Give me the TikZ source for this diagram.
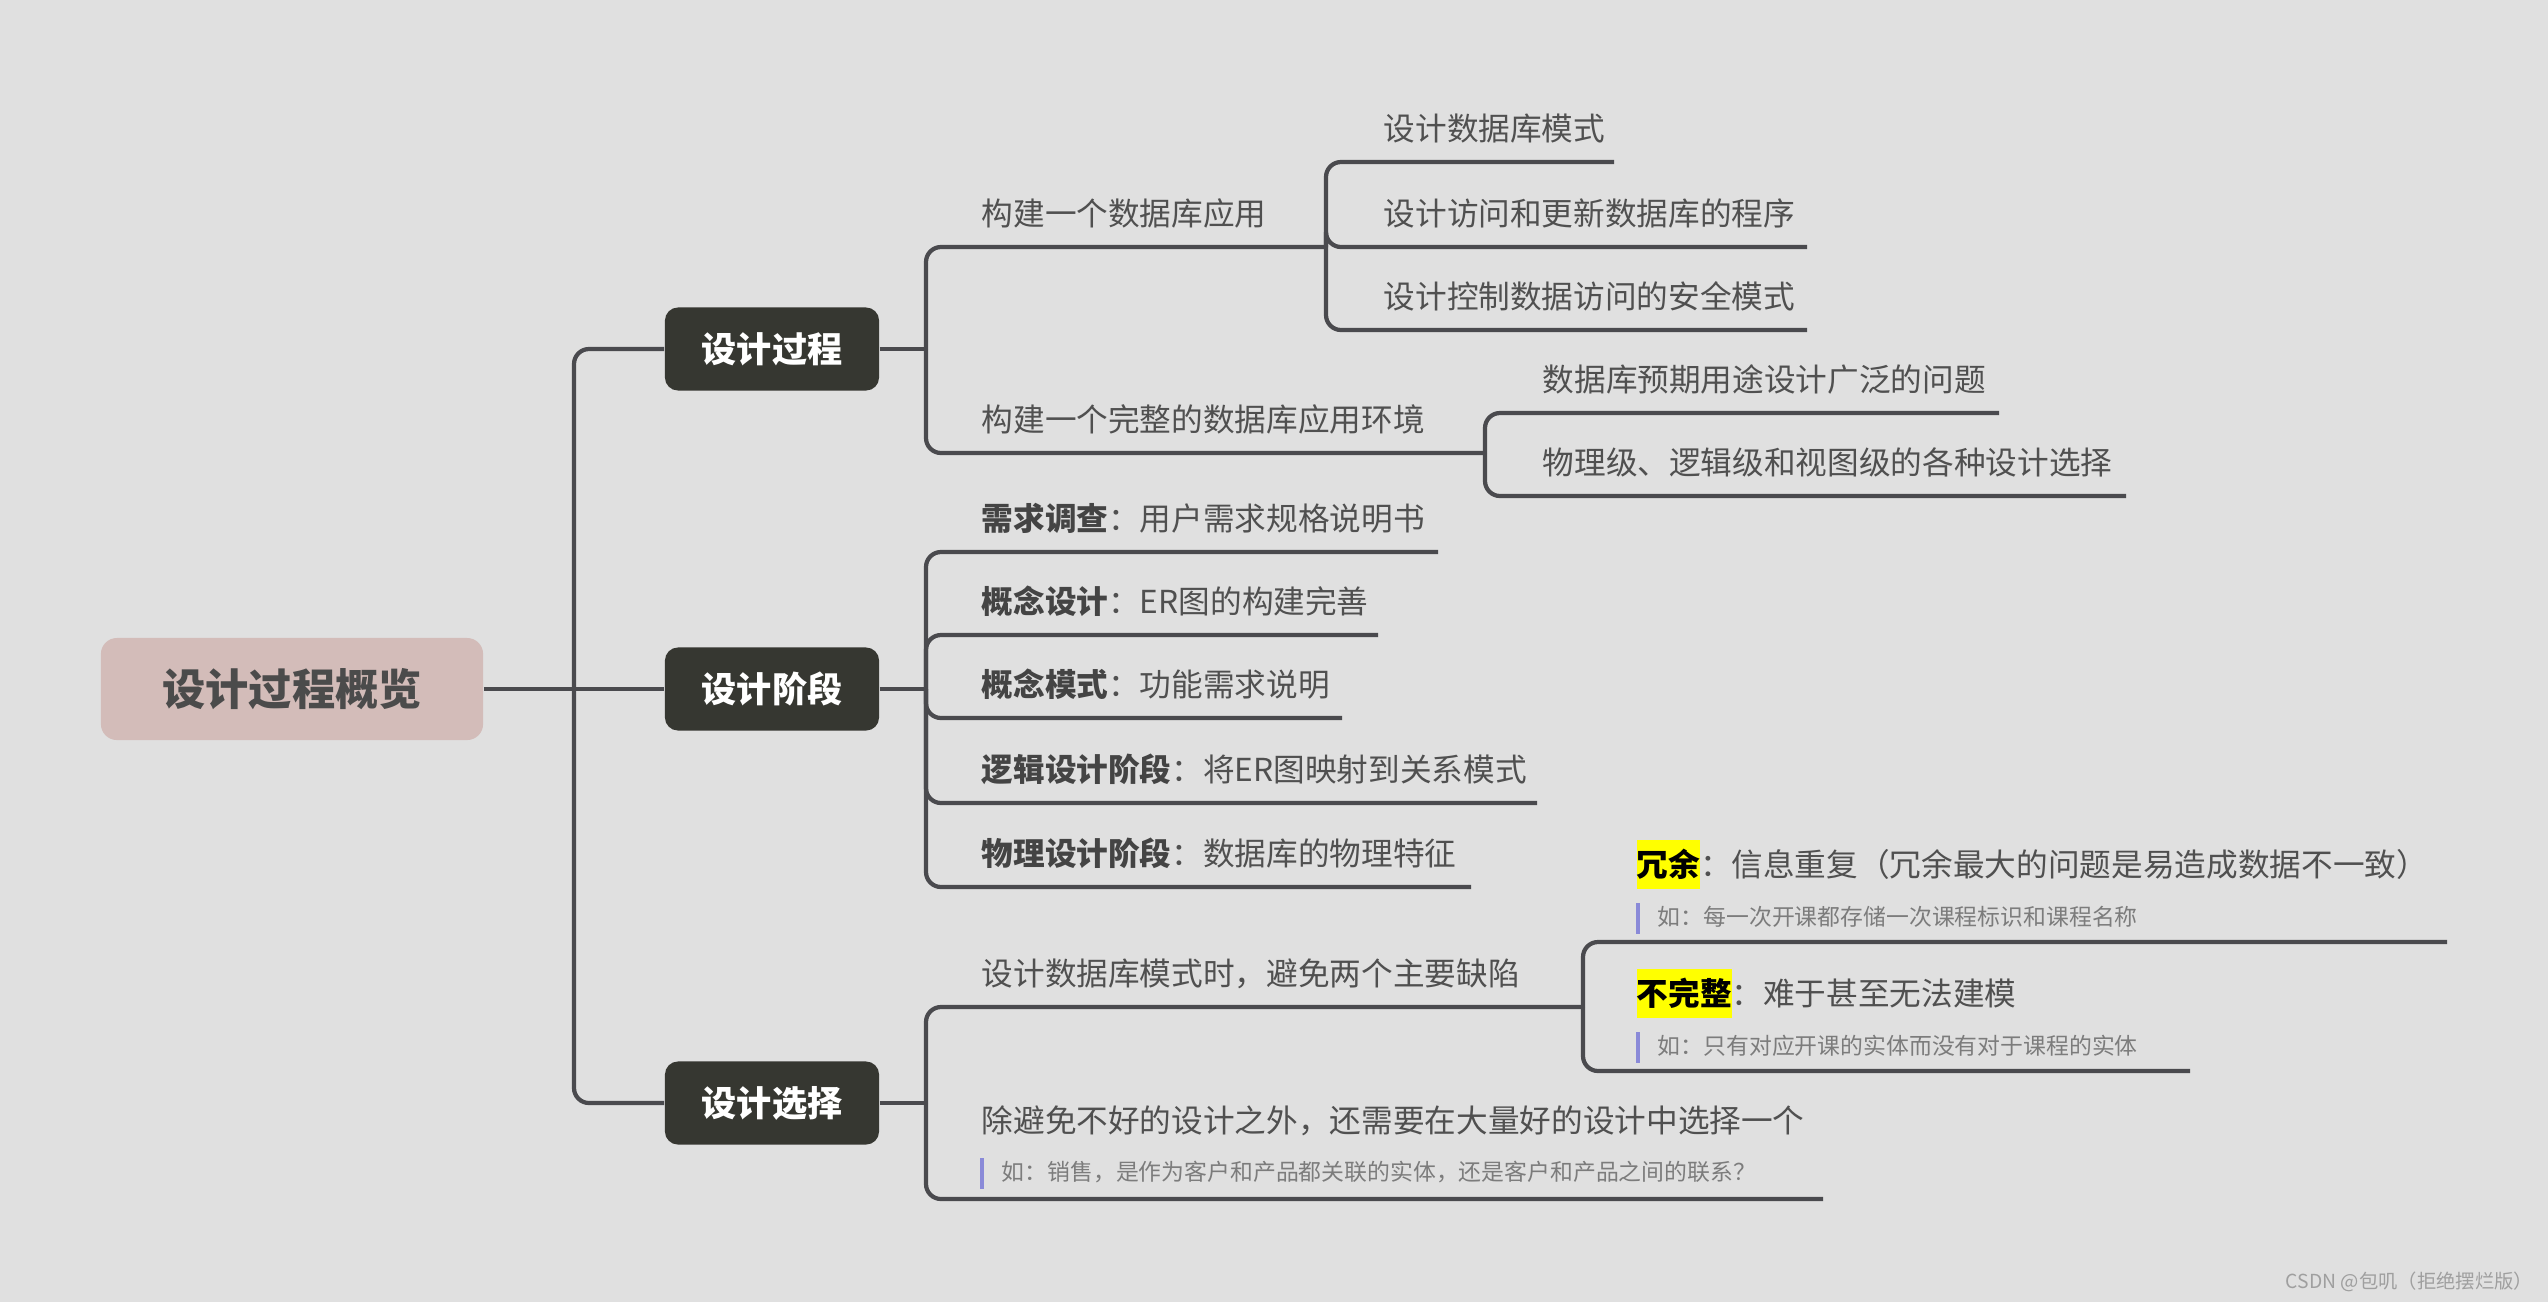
\documentclass[tikz,border=0pt]{standalone}
\usepackage{fontspec}
\setmainfont{Noto Sans CJK SC}
\usetikzlibrary{calc}
\definecolor{bgcol}{HTML}{E0E0E0}
\definecolor{linecol}{HTML}{4A4A4E}
\definecolor{rootfill}{HTML}{D3BCB9}
\definecolor{rootink}{HTML}{4B4B4B}
\definecolor{boxfill}{HTML}{363731}
\definecolor{textink}{HTML}{505050}
\definecolor{keyink}{HTML}{444444}
\definecolor{noteink}{HTML}{7C7C7C}
\definecolor{barcol}{HTML}{8A8AD8}
\definecolor{hlyellow}{HTML}{FFFF00}
\newcommand{\keyw}[1]{\textbf{\color{keyink}#1}}
\newcommand{\hilite}[1]{{\setlength{\fboxsep}{0pt}\colorbox{hlyellow}{\rule[-0.4em]{0pt}{1.55em}\textbf{\color{black}#1}}}}
\tikzset{
  rootbox/.style  = {fill=rootfill, text=rootink, rounded corners=0.16cm,
                     minimum width=3.82cm, minimum height=1.02cm,
                     font=\fontsize{12.3}{14}\selectfont\bfseries},
  topicbox/.style = {fill=boxfill, text=white, rounded corners=0.13cm,
                     minimum width=2.14cm, minimum height=0.83cm,
                     font=\fontsize{10}{12}\selectfont\bfseries},
  branch/.style   = {linecol, line width=1.2pt, rounded corners=0.15cm},
  leaf/.style     = {anchor=base west, inner sep=0pt, text=textink,
                     font=\fontsize{9}{11}\selectfont},
  note/.style     = {anchor=base west, inner sep=0pt, text=noteink,
                     font=\fontsize{6.5}{8}\selectfont},
  notebar/.style  = {barcol, line width=1.1pt}
}

\begin{document}
\begin{tikzpicture}[x=0.01cm,y=-0.01cm]
  \fill[bgcol] (0,0) rectangle (2548,1302);
  \useasboundingbox (0,0) rectangle (2548,1302);
  % root and the three main topics
  \node[rootbox]  (root)   at (292,689)  {设计过程概览};
  \node[topicbox] (proc)   at (772,349)  {设计过程};
  \node[topicbox] (stage)  at (772,689)  {设计阶段};
  \node[topicbox] (choice) at (772,1103) {设计选择};
  \coordinate (trunk) at (574,689);
  \draw[branch] (root.east) -- (stage.west);
  \draw[branch] (trunk) |- (proc.west);
  \draw[branch] (trunk) |- (choice.west);

  % 设计过程
  \coordinate (procfork) at (926,349);
  \coordinate (appfork)  at (1326,247);
  \coordinate (envfork)  at (1485,453);
  \draw[branch] (proc.east) -- (procfork);
  \draw[branch] (procfork) |- (appfork);
  \draw[branch] (procfork) |- (envfork);
  \node[leaf] (app) at (981,225) {构建一个数据库应用};
  \node[leaf] (env) at (981,431) {构建一个完整的数据库应用环境};
  \foreach \nm/\y/\xe/\txt in {appa/162/1614/{设计数据库模式},
                               appb/247/1807/{设计访问和更新数据库的程序},
                               appc/330/1807/{设计控制数据访问的安全模式}}
    { \coordinate (\nm e) at (\xe,\y);
      \draw[branch] (appfork) |- (\nm e);
      \node[leaf] (\nm) at (1383,\y-22) {\txt}; }
  \foreach \nm/\y/\xe/\txt in {enva/413/1999/{数据库预期用途设计广泛的问题},
                               envb/496/2126/{物理级、逻辑级和视图级的各种设计选择}}
    { \coordinate (\nm e) at (\xe,\y);
      \draw[branch] (envfork) |- (\nm e);
      \node[leaf] (\nm) at (1542,\y-22) {\txt}; }

  % 设计阶段
  \coordinate (stagefork) at (926,689);
  \draw[branch] (stage.east) -- (stagefork);
  \foreach \nm/\y/\xe/\txt in {req/552/1438/{\keyw{需求调查}：用户需求规格说明书},
                               concd/635/1378/{\keyw{概念设计}：ER图的构建完善},
                               concm/718/1342/{\keyw{概念模式}：功能需求说明},
                               logic/803/1537/{\keyw{逻辑设计阶段}：将ER图映射到关系模式},
                               phys/887/1471/{\keyw{物理设计阶段}：数据库的物理特征}}
    { \coordinate (\nm e) at (\xe,\y);
      \draw[branch] (stagefork) |- (\nm e);
      \node[leaf] (\nm) at (981,\y-22) {\txt}; }

  % 设计选择
  \coordinate (choicefork) at (926,1103);
  \coordinate (flawfork)   at (1583,1007);
  \coordinate (picke)      at (1823,1199);
  \draw[branch] (choice.east) -- (choicefork);
  \draw[branch] (choicefork) |- (flawfork);
  \draw[branch] (choicefork) |- (picke);
  \node[leaf] (flaw) at (981,985) {设计数据库模式时，避免两个主要缺陷};
  \node[leaf] (pick) at (981,1132) {除避免不好的设计之外，还需要在大量好的设计中选择一个};
  \node[note] (pickn) at (1001,1180) {如：销售，是作为客户和产品都关联的实体，还是客户和产品之间的联系？};
  \coordinate (redune) at (2447,942);
  \coordinate (income) at (2190,1071);
  \draw[branch] (flawfork) |- (redune);
  \draw[branch] (flawfork) |- (income);
  \node[leaf] (redun) at (1636,876)  {\hilite{冗余}：信息重复（冗余最大的问题是易造成数据不一致）};
  \node[note] (redunn) at (1657,925) {如：每一次开课都存储一次课程标识和课程名称};
  \node[leaf] (incom) at (1636,1005) {\hilite{不完整}：难于甚至无法建模};
  \node[note] (incomn) at (1657,1054) {如：只有对应开课的实体而没有对于课程的实体};
  \foreach \nm in {pickn,redunn,incomn}
    \draw[notebar] ($(\nm.base west)+(-19,-22)$) -- ++(0,31);

  \node[anchor=east, inner sep=0pt, text=gray!75, font=\fontsize{5.5}{7}\selectfont]
       (mark) at (2534,1282) {CSDN @包叽（拒绝摆烂版）};
\end{tikzpicture}
\end{document}
